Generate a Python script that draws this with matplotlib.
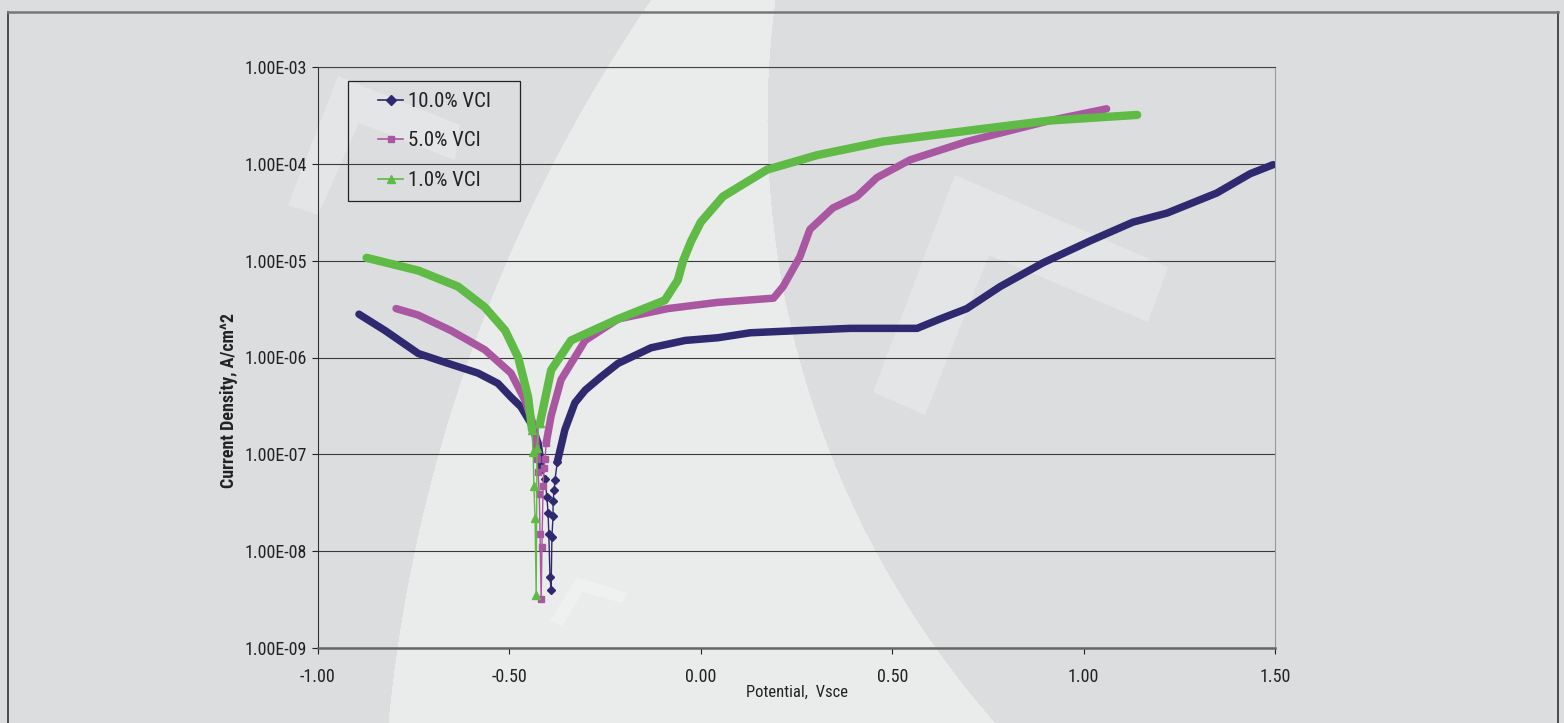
import numpy as np
import matplotlib
matplotlib.use("Agg")
import matplotlib.pyplot as plt
from matplotlib import font_manager
from matplotlib.lines import Line2D
from matplotlib.patches import Rectangle, Polygon

# pick a narrow face if one is installed
have = {f.name for f in font_manager.fontManager.ttflist}
fams = [f for f in ['Liberation Sans Narrow', 'Roboto Condensed', 'Open Sans Condensed'] if f in have]
plt.rcParams['font.family'] = fams + ['DejaVu Sans']
plt.rcParams['font.stretch'] = 'condensed'
plt.rcParams['axes.unicode_minus'] = False

# 10.0% VCI (potential V vs SCE, current density A/cm^2)
blue_cath_v = [-0.893, -0.825, -0.738, -0.668, -0.582, -0.530, -0.496, -0.470, -0.444, -0.425, -0.415]
blue_cath_i = [2.8e-6, 1.9e-6, 1.1e-6, 8.9e-7, 6.9e-7, 5.4e-7, 3.9e-7, 3.1e-7, 2.1e-7, 1.3e-7, 7.1e-8]
blue_tip_v = [-0.415, -0.407, -0.402, -0.399, -0.397, -0.394, -0.391, -0.389, -0.386, -0.386, -0.383, -0.381, -0.375]
blue_tip_i = [7.1e-8, 5.6e-8, 3.6e-8, 2.5e-8, 1.5e-8, 5.4e-9, 4.0e-9, 1.4e-8, 2.3e-8, 3.3e-8, 4.3e-8, 5.4e-8, 8.3e-8]
blue_anod_v = [-0.375, -0.355, -0.329, -0.302, -0.261, -0.216, -0.130, -0.041, 0.045, 0.129, 0.259, 0.390,
               0.565, 0.625, 0.695, 0.782, 0.894, 1.017, 1.129, 1.218, 1.348, 1.435, 1.495]
blue_anod_i = [8.3e-8, 1.8e-7, 3.4e-7, 4.6e-7, 6.3e-7, 8.7e-7, 1.26e-6, 1.5e-6, 1.6e-6, 1.8e-6, 1.9e-6, 2.0e-6,
               2.0e-6, 2.5e-6, 3.2e-6, 5.4e-6, 9.5e-6, 1.6e-5, 2.5e-5, 3.1e-5, 5.0e-5, 7.9e-5, 9.8e-5]

# 5.0% VCI
mag_cath_v = [-0.796, -0.739, -0.653, -0.564, -0.496, -0.459, -0.433, -0.428]
mag_cath_i = [3.2e-6, 2.75e-6, 1.9e-6, 1.2e-6, 6.9e-7, 3.6e-7, 1.8e-7, 8.9e-8]
mag_tip_v = [-0.428, -0.425, -0.422, -0.420, -0.417, -0.415, -0.412, -0.410, -0.407, -0.404]
mag_tip_i = [8.9e-8, 6.5e-8, 3.9e-8, 1.5e-8, 3.2e-9, 1.1e-8, 4.7e-8, 7.2e-8, 8.9e-8, 1.3e-7]
mag_anod_v = [-0.404, -0.391, -0.365, -0.302, -0.216, -0.086, 0.042, 0.190, 0.215, 0.259, 0.285, 0.345,
              0.408, 0.460, 0.547, 0.695, 0.912, 1.060]
mag_anod_i = [1.3e-7, 2.5e-7, 5.9e-7, 1.5e-6, 2.5e-6, 3.2e-6, 3.7e-6, 4.1e-6, 5.4e-6, 1.1e-5, 2.1e-5, 3.5e-5,
              4.6e-5, 7.2e-5, 1.1e-4, 1.7e-4, 2.8e-4, 3.7e-4]

# 1.0% VCI
grn_cath_v = [-0.873, -0.738, -0.634, -0.564, -0.511, -0.477, -0.451, -0.441]
grn_cath_i = [1.07e-5, 7.9e-6, 5.4e-6, 3.3e-6, 1.9e-6, 1.0e-6, 3.9e-7, 1.8e-7]
grn_tip_v = [-0.441, -0.438, -0.436, -0.433, -0.430, -0.428, -0.423, -0.420]
grn_tip_i = [1.8e-7, 1.05e-7, 4.7e-8, 2.2e-8, 3.5e-9, 1.15e-7, 2.1e-7, 2.1e-7]
grn_anod_v = [-0.420, -0.391, -0.339, -0.216, -0.094, -0.060, -0.046, -0.025, 0.000, 0.058, 0.173, 0.304,
              0.476, 0.737, 0.912, 1.140]
grn_anod_i = [2.1e-7, 7.4e-7, 1.5e-6, 2.5e-6, 3.9e-6, 6.3e-6, 1.0e-5, 1.6e-5, 2.5e-5, 4.6e-5, 8.7e-5, 1.23e-4,
              1.7e-4, 2.3e-4, 2.8e-4, 3.2e-4]

labels = ['10.0% VCI', '5.0% VCI', '1.0% VCI']
colors = ['#2f2a6f', '#aa57a2', '#5fba46']
markers = ['D', 's', '^']

W, H = 1564, 723
fig = plt.figure(figsize=(W / 100, H / 100), dpi=100, facecolor='#dcdddf')

# background watermark
bg = fig.add_axes([0, 0, 1, 1], zorder=-5)
bg.set_xlim(0, W)
bg.set_ylim(H, 0)
bg.axis('off')
X, Y = np.meshgrid(np.arange(W), np.arange(H))
light = ((X - 1919) ** 2 + (Y - 869.5) ** 2 < 1538 ** 2) & ((X - 1678) ** 2 + (Y - 120) ** 2 > 911 ** 2)
img = np.zeros((H, W, 3))
img[:] = np.array([220, 221, 223]) / 255
img[light] = np.array([234, 235, 235]) / 255
bg.imshow(img, extent=(0, W, H, 0), aspect='auto', interpolation='nearest')
for pts in [[(338, 76), (460, 125), (455, 160), (359, 123), (318, 215), (288, 205)],
            [(955, 175), (1168, 267), (1148, 322), (989, 255), (925, 415), (873, 392)],
            [(577, 577), (627, 593), (622, 603), (583, 592), (562, 626), (550, 621)]]:
    bg.add_patch(Polygon(pts, closed=True, facecolor='white', edgecolor='none', alpha=0.25))
# outer frame
bg.plot([8, 8], [12, H], color='#333333', lw=1.2)
bg.plot([1558, 1558], [12, H], color='#333333', lw=1.2)
bg.plot([8, 1558], [12, 12], color='#777777', lw=1.8)
# legend box
bg.add_patch(Rectangle((348, 81), 172, 120, facecolor='none', edgecolor='#222222', lw=0.9))

ax = fig.add_axes([318 / W, 75 / H, 957 / W, 581 / H])
ax.set_facecolor('none')
ax.set_yscale('log')
ax.set_xlim(-1.0, 1.5)
ax.set_ylim(1e-9, 1e-3)
ax.set_yticks([1e-9, 1e-8, 1e-7, 1e-6, 1e-5, 1e-4, 1e-3])
ax.set_yticklabels(['1.00E-09', '1.00E-08', '1.00E-07', '1.00E-06', '1.00E-05', '1.00E-04', '1.00E-03'])
ax.minorticks_off()
ax.set_xticks([-1.0, -0.5, 0.0, 0.5, 1.0, 1.5])
ax.set_xticklabels(['%.2f' % t for t in [-1.0, -0.5, 0.0, 0.5, 1.0, 1.5]])
ax.tick_params(axis='y', length=4, width=0.8, pad=4, labelsize=13, colors='#222222')
ax.tick_params(axis='x', length=4.5, width=0.8, pad=10, labelsize=13, colors='#222222')
ax.yaxis.grid(True, color='#3a3a3a', lw=0.8)
ax.spines['left'].set_color('#333333')
ax.spines['bottom'].set_color('#666666')
ax.spines['bottom'].set_linewidth(1.8)
ax.spines['top'].set_color('#444444')
ax.spines['top'].set_linewidth(0.8)
ax.spines['right'].set_color('#999999')
ax.spines['right'].set_linewidth(0.8)
ax.set_axisbelow(True)

series = [
    (blue_cath_v, blue_cath_i, blue_tip_v, blue_tip_i, blue_anod_v, blue_anod_i),
    (mag_cath_v, mag_cath_i, mag_tip_v, mag_tip_i, mag_anod_v, mag_anod_i),
    (grn_cath_v, grn_cath_i, grn_tip_v, grn_tip_i, grn_anod_v, grn_anod_i),
]
band = [5.4, 5.4, 6.0]
msize = [4.5, 4.5, 5.5]
for k, (cv, ci, tv, ti, av, ai) in enumerate(series):
    z = 3 + k
    ax.plot(cv, ci, color=colors[k], lw=band[k], solid_joinstyle='round', solid_capstyle='round', zorder=z)
    ax.plot(av, ai, color=colors[k], lw=band[k], solid_joinstyle='round', solid_capstyle='round', zorder=z)
    ax.plot(tv, ti, color=colors[k], lw=1.0, marker=markers[k], ms=msize[k], mec=colors[k], zorder=z)

handles = [Line2D([], [], color=colors[k], lw=1.2, marker=markers[k], ms=[5, 5, 6][k]) for k in range(3)]
fig.legend(handles, labels, loc='upper left', bbox_to_anchor=(378 / W, 1 - 92 / H),
           bbox_transform=fig.transFigure, frameon=False, borderpad=0, borderaxespad=0,
           handlelength=1.2, handletextpad=0.25, labelspacing=0.98, fontsize=15,
           labelcolor='#222222')

fig.text(229 / W, 1 - 400 / H, 'Current Density, A/cm^2', rotation=90, ha='center', va='center',
         fontsize=13, fontweight='bold', color='#222222')
fig.text(797 / W, 1 - 692 / H, 'Potential,  Vsce', ha='center', va='center', fontsize=12, color='#222222')

fig.savefig('out.png', dpi=100, facecolor=fig.get_facecolor())
